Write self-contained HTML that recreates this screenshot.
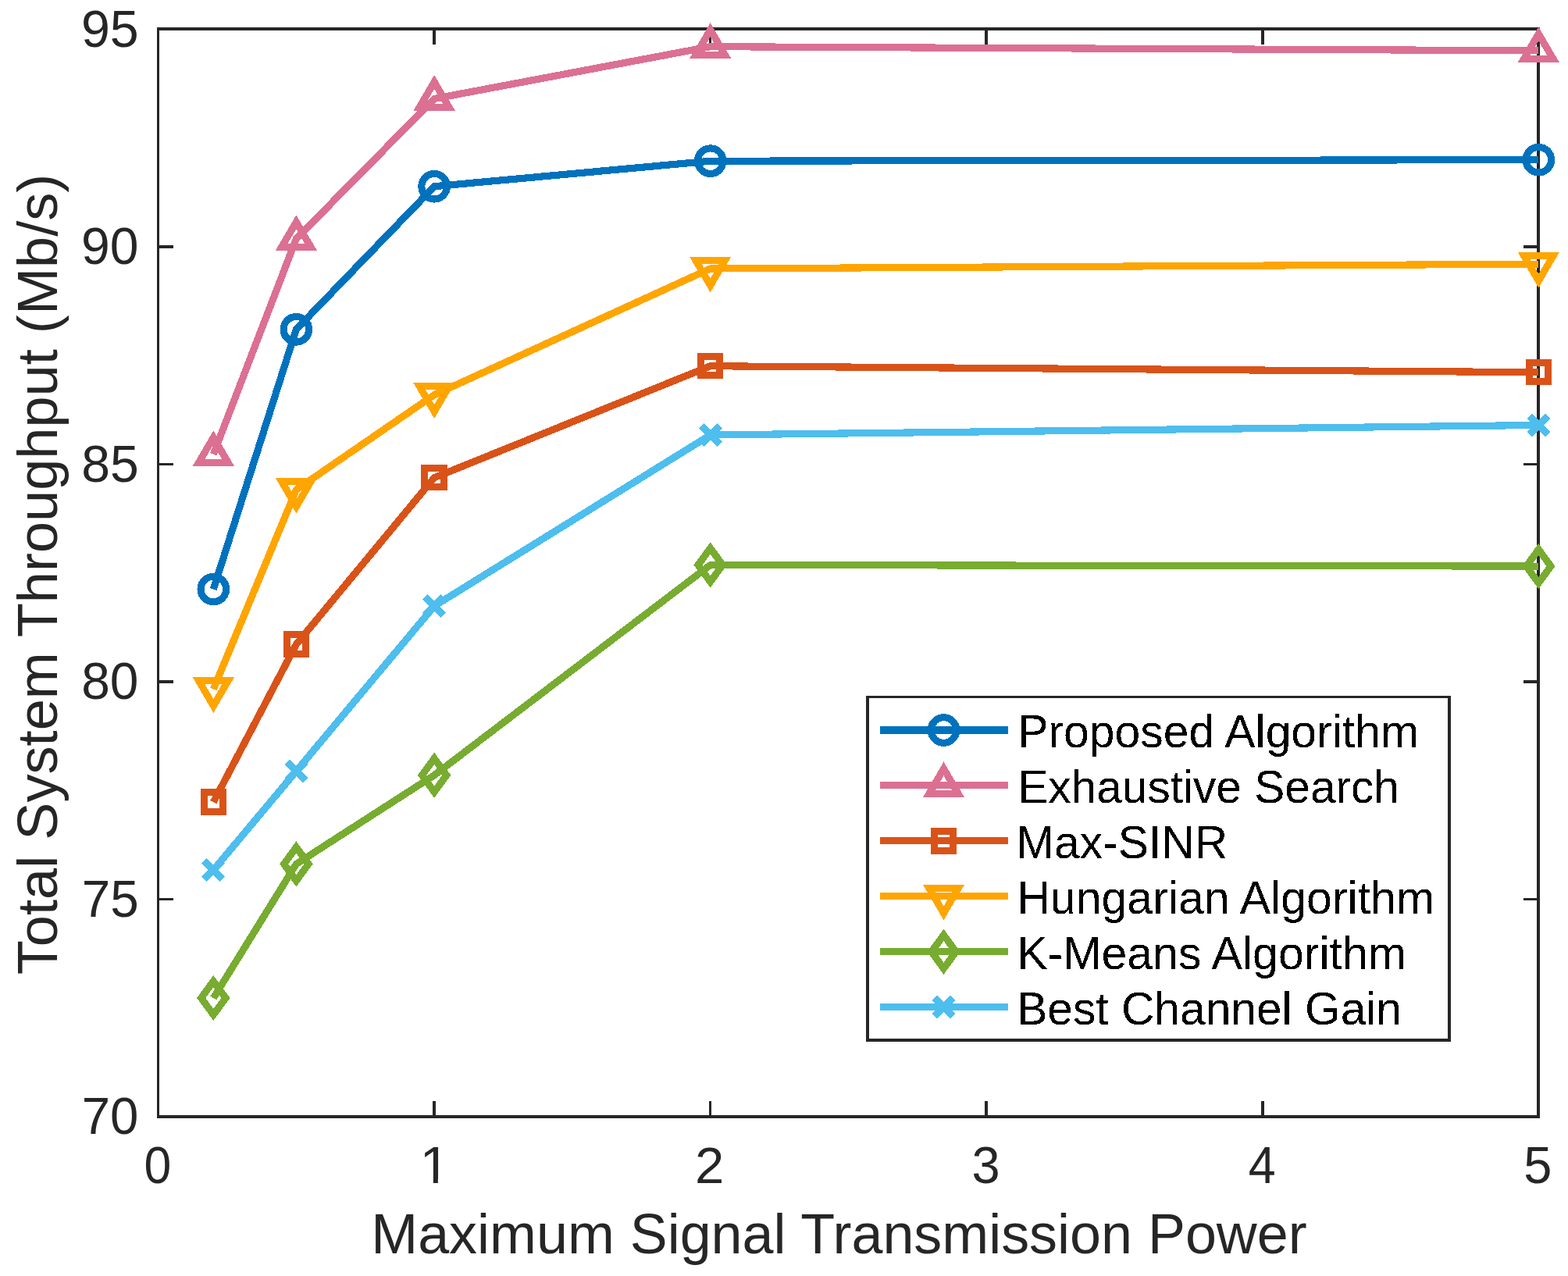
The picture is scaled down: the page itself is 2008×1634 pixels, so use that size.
<!DOCTYPE html>
<html lang="en"><head><meta charset="utf-8"><title>Total System Throughput vs Maximum Signal Transmission Power</title>
<style>
html,body{margin:0;padding:0;background:#fff;}
body{width:2008px;height:1634px;overflow:hidden;}
svg{display:block;}
text{font-family:"Liberation Sans",Arial,Helvetica,sans-serif;}
.tk{font-size:65.4px;fill:#262626;}
.lb{font-size:72px;fill:#262626;}
.lg{font-size:58.9px;fill:#000;}
.ax rect{fill:#262626;shape-rendering:crispEdges;}
.ln{shape-rendering:crispEdges;fill:none;stroke-width:9.15;stroke-linejoin:round;stroke-linecap:butt;}
.mk{shape-rendering:crispEdges;fill:none;stroke-width:9.1;stroke-linejoin:miter;stroke-miterlimit:10;stroke-linecap:butt;}
.ll rect{shape-rendering:crispEdges;}
</style></head><body>
<svg xmlns="http://www.w3.org/2000/svg" width="2008" height="1634" viewBox="0 0 2008 1634">
<defs><filter id="al" x="-2%" y="-20%" width="104%" height="140%" color-interpolation-filters="sRGB"><feComponentTransfer><feFuncA type="discrete" tableValues="0 1"/></feComponentTransfer></filter></defs>
<rect x="0" y="0" width="2008" height="1634" fill="#fff"/>
<g class="ax">
<rect x="201" y="35" width="1771" height="4"/>
<rect x="201" y="1428" width="1771" height="4"/>
<rect x="201" y="35" width="3" height="1397"/>
<rect x="1968" y="35" width="4" height="1397"/>
<rect x="554" y="1410" width="4" height="18"/>
<rect x="554" y="39" width="4" height="18"/>
<rect x="908" y="1410" width="3" height="18"/>
<rect x="908" y="39" width="3" height="18"/>
<rect x="1261" y="1410" width="4" height="18"/>
<rect x="1261" y="39" width="4" height="18"/>
<rect x="1615" y="1410" width="4" height="18"/>
<rect x="1615" y="39" width="4" height="18"/>
<rect x="204" y="314" width="18" height="4"/>
<rect x="1951" y="314" width="17" height="4"/>
<rect x="204" y="593" width="18" height="3"/>
<rect x="1951" y="593" width="17" height="3"/>
<rect x="204" y="871" width="18" height="4"/>
<rect x="1951" y="871" width="17" height="4"/>
<rect x="204" y="1150" width="18" height="3"/>
<rect x="1951" y="1150" width="17" height="3"/>
</g>
<clipPath id="c1"><path d="M-5 -60H45V-5.6H22.1V3H16.4V-5.6H-5Z"/></clipPath>
<text class="tk" transform="translate(184.55 1515.49) scale(0.9564 1.0200)">0</text>
<text class="tk" clip-path="url(#c1)" transform="translate(537.45 1514.9) scale(1.0600 1.0180)">1</text>
<text class="tk" transform="translate(889.92 1514.85) scale(1.0258 1.0039)">2</text>
<text class="tk" transform="translate(1244.52 1515.45) scale(0.9939 1.0197)">3</text>
<text class="tk" transform="translate(1598.7 1514.85) scale(0.9594 1.0144)">4</text>
<text class="tk" transform="translate(1951.33 1515.46) scale(0.9938 1.0280)">5</text>
<text class="tk" transform="translate(104.68 1452.23) scale(1.0004 1.0133)">70</text>
<text class="tk" transform="translate(104.66 1174.33) scale(1.0038 1.0250)">75</text>
<text class="tk" transform="translate(104.2 895.22) scale(1.0072 1.0130)">80</text>
<text class="tk" transform="translate(104.2 617.22) scale(1.0105 1.0133)">85</text>
<text class="tk" transform="translate(103.97 338.33) scale(1.0106 1.0143)">90</text>
<text class="tk" transform="translate(103.95 60.23) scale(1.0140 1.0147)">95</text>
<text class="lb" transform="translate(475.25 1604.75) scale(0.9985 1.0000)">Maximum Signal Transmission Power</text>
<text class="lb" transform="translate(72.7 1248.23) rotate(-90) scale(1.0027 1)">Total System Throughput (Mb/s)</text>
<polyline class="ln" points="273.31,754.5 379.37,421.8 556.14,238.73 909.68,206.19 1970.3,204.68" stroke="#0072BD"/>
<g class="mk"><circle cx="273.31" cy="754.5" r="16.3" stroke="#0072BD"/><circle cx="379.37" cy="421.8" r="16.3" stroke="#0072BD"/><circle cx="556.14" cy="238.73" r="16.3" stroke="#0072BD"/><circle cx="909.68" cy="206.19" r="16.3" stroke="#0072BD"/><circle cx="1970.3" cy="204.68" r="16.3" stroke="#0072BD"/></g>
<polyline class="ln" points="273.31,581.7 379.37,305.8 556.14,126.46 909.68,59.68 1970.3,64.85" stroke="#DB7093"/>
<g class="mk"><polygon points="273.31,560.2 254.51,592.4 292.11,592.4" stroke="#DB7093"/><polygon points="379.37,284.3 360.57,316.5 398.17,316.5" stroke="#DB7093"/><polygon points="556.14,104.96 537.34,137.16 574.94,137.16" stroke="#DB7093"/><polygon points="909.68,38.18 890.88,70.38 928.48,70.38" stroke="#DB7093"/><polygon points="1970.3,43.35 1951.5,75.55 1989.1,75.55" stroke="#DB7093"/></g>
<polyline class="ln" points="273.31,1027.1 379.37,825.1 556.14,611.7 909.68,468.72 1970.3,476.73" stroke="#D95319"/>
<g class="mk"><rect x="261.11" y="1014.9" width="24.4" height="24.4" stroke="#D95319"/><rect x="367.17" y="812.9" width="24.4" height="24.4" stroke="#D95319"/><rect x="543.94" y="599.5" width="24.4" height="24.4" stroke="#D95319"/><rect x="897.48" y="456.52" width="24.4" height="24.4" stroke="#D95319"/><rect x="1958.1" y="464.53" width="24.4" height="24.4" stroke="#D95319"/></g>
<polyline class="ln" points="273.31,882.45 379.37,627.1 556.14,505.6 909.68,344 1970.3,338.14" stroke="#FFA500"/>
<g class="mk"><polygon points="273.31,903.95 254.51,871.75 292.11,871.75" stroke="#FFA500"/><polygon points="379.37,648.6 360.57,616.4 398.17,616.4" stroke="#FFA500"/><polygon points="556.14,527.1 537.34,494.9 574.94,494.9" stroke="#FFA500"/><polygon points="909.68,365.5 890.88,333.3 928.48,333.3" stroke="#FFA500"/><polygon points="1970.3,359.64 1951.5,327.44 1989.1,327.44" stroke="#FFA500"/></g>
<polyline class="ln" points="273.31,1278 379.37,1106.4 556.14,992.7 909.68,723.49 1970.3,725.1" stroke="#77AC30"/>
<g class="mk"><polygon points="273.31,1256.55 289.01,1278 273.31,1299.45 257.61,1278" stroke="#77AC30"/><polygon points="379.37,1084.95 395.07,1106.4 379.37,1127.85 363.67,1106.4" stroke="#77AC30"/><polygon points="556.14,971.25 571.84,992.7 556.14,1014.15 540.44,992.7" stroke="#77AC30"/><polygon points="909.68,702.04 925.38,723.49 909.68,744.94 893.98,723.49" stroke="#77AC30"/><polygon points="1970.3,703.65 1986,725.1 1970.3,746.55 1954.6,725.1" stroke="#77AC30"/></g>
<polyline class="ln" points="273.31,1114.1 379.37,987.5 556.14,776.1 909.68,557.02 1970.3,544.43" stroke="#4DBEEE"/>
<g class="mk"><path d="M261.61 1102.4L285.01 1125.8M261.61 1125.8L285.01 1102.4" stroke="#4DBEEE"/><path d="M367.67 975.8L391.07 999.2M367.67 999.2L391.07 975.8" stroke="#4DBEEE"/><path d="M544.44 764.4L567.84 787.8M544.44 787.8L567.84 764.4" stroke="#4DBEEE"/><path d="M897.98 545.32L921.38 568.72M897.98 568.72L921.38 545.32" stroke="#4DBEEE"/><path d="M1958.6 532.73L1982 556.13M1958.6 556.13L1982 532.73" stroke="#4DBEEE"/></g>
<rect x="1111" y="892" width="745" height="440" fill="#fff"/>
<g class="ax">
<rect x="1109" y="891" width="749" height="3"/>
<rect x="1109" y="1330" width="749" height="4"/>
<rect x="1109" y="891" width="4" height="443"/>
<rect x="1854" y="891" width="4" height="443"/>
</g>
<g class="ll" fill="#0072BD"><rect x="1127" y="930" width="164" height="10"/></g>
<g class="mk"><circle cx="1208.5" cy="935" r="16.3" stroke="#0072BD"/></g>
<text class="lg" filter="url(#al)" transform="translate(1303.17 957) scale(0.9998 1.0000)">Proposed Algorithm</text>
<g class="ll" fill="#DB7093"><rect x="1127" y="1001" width="164" height="9"/></g>
<g class="mk"><polygon points="1208.5,984.45 1189.7,1016.65 1227.3,1016.65" stroke="#DB7093"/></g>
<text class="lg" filter="url(#al)" transform="translate(1303.19 1028) scale(0.9954 1.0000)">Exhaustive Search</text>
<g class="ll" fill="#D95319"><rect x="1127" y="1072" width="164" height="9"/></g>
<g class="mk"><rect x="1196.3" y="1064.7" width="24.4" height="24.4" stroke="#D95319"/></g>
<text class="lg" filter="url(#al)" transform="translate(1301.18 1099) scale(0.9976 1.0000)">Max-SINR</text>
<g class="ll" fill="#FFA500"><rect x="1127" y="1143" width="164" height="9"/></g>
<g class="mk"><polygon points="1208.5,1169.35 1189.7,1137.15 1227.3,1137.15" stroke="#FFA500"/></g>
<text class="lg" filter="url(#al)" transform="translate(1302.16 1170) scale(1.0025 1.0000)">Hungarian Algorithm</text>
<g class="ll" fill="#77AC30"><rect x="1127" y="1214" width="164" height="9"/></g>
<g class="mk"><polygon points="1208.5,1197.35 1224.2,1218.8 1208.5,1240.25 1192.8,1218.8" stroke="#77AC30"/></g>
<text class="lg" filter="url(#al)" transform="translate(1302.16 1241) scale(1.0026 1.0000)">K-Means Algorithm</text>
<g class="ll" fill="#4DBEEE"><rect x="1127" y="1285" width="164" height="9"/></g>
<g class="mk"><path d="M1196.8 1278.05L1220.2 1301.45M1196.8 1301.45L1220.2 1278.05" stroke="#4DBEEE"/></g>
<text class="lg" filter="url(#al)" transform="translate(1302.19 1312) scale(0.9969 1.0000)">Best Channel Gain</text>
</svg>
</body></html>
